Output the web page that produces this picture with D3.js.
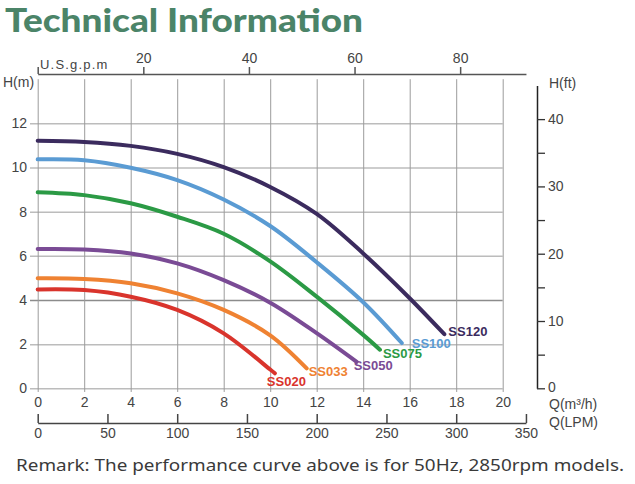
<!DOCTYPE html>
<html>
<head>
<meta charset="utf-8">
<script src="https://cdn.jsdelivr.net/npm/d3@7"></script>
<style>
  html, body { margin: 0; padding: 0; background: #fff; }
  svg { display: block; }
  text { font-family: "Liberation Sans", Arial, sans-serif; }
</style>
</head>
<body>
<svg id="chart" width="635" height="484"></svg>
<script>
// ---------- DATA ----------
const seriesNames = ["SS120", "SS100", "SS075", "SS050", "SS033", "SS020"];
const ss120Q = [0, 2, 4, 6, 8, 10, 12, 14, 16, 17.49];
const ss120H = [11.21, 11.16, 10.98, 10.62, 10.02, 9.12, 7.9, 6.11, 4.08, 2.45];
const ss100Q = [0, 2, 4, 6, 8, 10, 12, 14, 15.66];
const ss100H = [10.37, 10.33, 9.99, 9.43, 8.55, 7.35, 5.71, 3.9, 2.05];
const ss075Q = [0, 2, 4, 6, 8, 10, 12, 14, 14.72];
const ss075H = [8.88, 8.75, 8.38, 7.77, 7.0, 5.75, 4.15, 2.42, 1.75];
const ss050Q = [0, 2, 4, 6, 8, 10, 12, 13.72];
const ss050H = [6.31, 6.29, 6.11, 5.66, 4.9, 3.88, 2.5, 1.2];
const ss033Q = [0, 2, 4, 6, 8, 10, 11.57];
const ss033H = [4.98, 4.95, 4.76, 4.3, 3.55, 2.4, 0.9];
const ss020Q = [0, 2, 4, 6, 8, 10, 10.2];
const ss020H = [4.48, 4.45, 4.15, 3.55, 2.49, 0.85, 0.68];

const m3hTicks = [0, 2, 4, 6, 8, 10, 12, 14, 16, 18, 20];
const hmTicks = [0, 2, 4, 6, 8, 10, 12];
const gpmTicks = [0, 20, 40, 60, 80];
const lpmTicks = [0, 50, 100, 150, 200, 250, 300, 350];
const ftTicks = [0, 5, 10, 15, 20, 25, 30, 35, 40];

const titleText = "Technical Information";
const remarkText = "Remark: The performance curve above is for 50Hz, 2850rpm models.";

// ---------- STYLE ----------
const colors = ["#3b2b5e", "#5a9bd3", "#2b9a45", "#7a4b95", "#ef8232", "#d9342c"];
const labelOffsets = [[4, -3], [10, 0], [3, 4], [-3, 4], [2, 3], [-8, 8]];

const svg = d3.select("#chart");

const M3H_TO_GPM = 4.40287, M3H_TO_LPM = 16.6667, FT_TO_M = 0.3048;
const x = d3.scaleLinear().domain([0, 20]).range([37.7, 502.7]);
const y = d3.scaleLinear().domain([0, 14]).range([388.3, 79.2]);
const xEnd = x(21);
const gpm = d3.scaleLinear().domain([0, 21 * M3H_TO_GPM]).range([x(0), xEnd]);
const lpm = d3.scaleLinear().domain([0, 350]).range([x(0), x(350 / M3H_TO_LPM)]);
const ft = d3.scaleLinear().domain([0, 45]).range([y(0), y(45 * FT_TO_M)]);

// Title
svg.append("text")
  .attr("x", 5).attr("y", 32)
  .attr("textLength", 358).attr("lengthAdjust", "spacingAndGlyphs")
  .style("font-family", "Lato, 'Noto Sans', sans-serif")
  .style("font-weight", 900).style("font-size", "33px")
  .attr("fill", "#4b8468")
  .text(titleText);

// Horizontal grid + left labels
const gy = svg.append("g").attr("transform", "translate(30,0)")
  .call(d3.axisLeft(y).tickValues(hmTicks).tickSize(-(x(20) - 30)).tickPadding(3));
gy.select(".domain").remove();
gy.selectAll(".tick line").attr("stroke", d => d === 4 ? "#8c8c8c" : "#bcbcbc").attr("stroke-width", 1.5);
gy.selectAll(".tick text").style("font-size", "14px").attr("fill", "#444");

// Vertical grid + bottom m3/h labels
const gx = svg.append("g").attr("transform", `translate(0,${y(14)})`)
  .call(d3.axisBottom(x).tickValues(m3hTicks).tickSize(392 - y(14)).tickPadding(5));
gx.select(".domain").remove();
gx.selectAll(".tick line").attr("stroke", "#9c9c9c").attr("stroke-width", 1);
gx.selectAll(".tick text").style("font-size", "14px").attr("fill", "#444");

// Top U.S. gpm axis
const topY = 74;
const gt = svg.append("g").attr("transform", `translate(0,${topY})`)
  .call(d3.axisTop(gpm).tickValues(gpmTicks).tickSize(7).tickSizeOuter(0).tickPadding(4)
    .tickFormat(d => d === 0 ? "" : d));
gt.select(".domain").attr("stroke", "#555").attr("stroke-width", 1.5);
gt.selectAll(".tick line").attr("stroke", "#555").attr("stroke-width", 1.5);
gt.selectAll(".tick text").style("font-size", "14px").attr("fill", "#444");
svg.append("text").attr("x", 40).attr("y", 69)
  .style("font-size", "13px").style("letter-spacing", "1.2px").attr("fill", "#444")
  .text("U.S.g.p.m");

// Bottom LPM axis
const gl = svg.append("g").attr("transform", "translate(0,423)")
  .call(d3.axisBottom(lpm).tickValues(lpmTicks).tickSize(-9).tickSizeOuter(0).tickPadding(5));
gl.select(".domain").attr("stroke", "#444").attr("stroke-width", 1.5);
gl.selectAll(".tick line").attr("stroke", "#444").attr("stroke-width", 1.5);
gl.selectAll(".tick text").style("font-size", "14px").attr("fill", "#444");

// Right ft axis
const gr = svg.append("g").attr("transform", "translate(537,0)")
  .call(d3.axisRight(ft).tickValues(ftTicks).tickSize(8).tickSizeOuter(0).tickPadding(3)
    .tickFormat(d => d % 10 === 0 ? d : ""));
gr.select(".domain").attr("stroke", "#222").attr("stroke-width", 1.5);
gr.selectAll(".tick line").attr("stroke", "#333").attr("stroke-width", 1.3);
gr.selectAll(".tick text").style("font-size", "14px").attr("fill", "#444")
  .attr("dy", d => d === 0 ? "0.2em" : "0.32em");

// Axis titles
const axTitle = (tx, ty, t) => svg.append("text").attr("x", tx).attr("y", ty)
  .attr("dy", "0.35em").style("font-size", "14px").attr("fill", "#444").text(t);
axTitle(3, 82, "H(m)");
axTitle(549, 83, "H(ft)");
axTitle(549, 404, "Q(m³/h)");
axTitle(549, 422, "Q(LPM)");

// Curves
const allQ = [ss120Q, ss100Q, ss075Q, ss050Q, ss033Q, ss020Q];
const allH = [ss120H, ss100H, ss075H, ss050H, ss033H, ss020H];
const line = d3.line().x(d => x(d[0])).y(d => y(d[1])).curve(d3.curveCatmullRom.alpha(0.5));

seriesNames.forEach((name, i) => {
  const pts = allQ[i].map((q, j) => [q, allH[i][j]]);
  svg.append("path").datum(pts)
    .attr("d", line)
    .attr("fill", "none")
    .attr("stroke", colors[i])
    .attr("stroke-width", 4)
    .attr("stroke-linecap", "round");
  const last = pts[pts.length - 1];
  svg.append("text")
    .attr("x", x(last[0]) + labelOffsets[i][0])
    .attr("y", y(last[1]) + labelOffsets[i][1])
    .attr("dy", "0.35em")
    .style("font-size", "13px").style("font-weight", 700)
    .attr("fill", colors[i])
    .text(name);
});

// Remark
svg.append("text")
  .attr("x", 16).attr("y", 471)
  .attr("textLength", 608).attr("lengthAdjust", "spacingAndGlyphs")
  .style("font-family", "'Noto Sans', sans-serif")
  .style("font-size", "17px").attr("fill", "#3a3a3a")
  .text(remarkText);
</script>
</body>
</html>
